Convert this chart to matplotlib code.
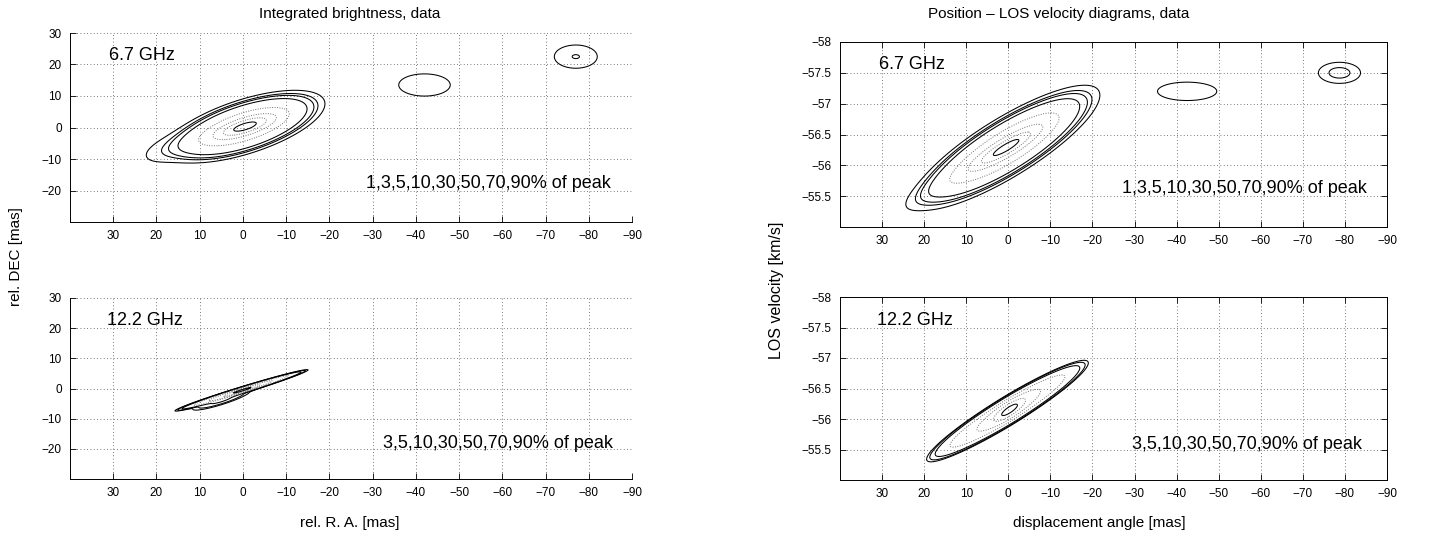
import numpy as np
import matplotlib
matplotlib.use("Agg")
import matplotlib.pyplot as plt
from matplotlib.ticker import FuncFormatter

plt.rcParams['font.family'] = ['Liberation Sans', 'DejaVu Sans']

# ---------------- data ----------------
# Each emission component: centre (x0, y0), width along x (sx),
# thickness about its ridge (sy), ridge slope (k), amplitude (A),
# profile sharpness (m: 2 = gaussian, 4 = flat-topped)
pos67_x0 = [-0.5, -0.5, 14.0, -42.0, -77.0]
pos67_y0 = [0.3, 0.3, -5.5, 13.5, 22.5]
pos67_sx = [4.5, 11.3, 5.0, 4.4, 3.3]
pos67_sy = [1.8, 5.5, 2.5, 2.6, 2.45]
pos67_k = [-0.39, -0.39, -0.39, 0.0, 0.0]
pos67_A = [0.65, 0.35, 0.04, 0.025, 0.031]
pos67_m = [2, 4, 2, 2, 2]

pos122_x0 = [0.0, 0.3, 5.0]
pos122_y0 = [-0.5, -0.6, -3.9]
pos122_sx = [3.0, 10.9, 4.0]
pos122_sy = [0.35, 0.85, 0.9]
pos122_k = [-0.44, -0.44, -0.44]
pos122_A = [0.5, 0.5, 0.12]
pos122_m = [2, 5, 2]

vel67_x0 = [0.5, 0.5, 15.0, -42.5, -78.7]
vel67_y0 = [-56.29, -56.29, -55.72, -57.2, -57.5]
vel67_sx = [5.0, 13.5, 5.0, 5.2, 2.93]
vel67_sy = [0.10, 0.334, 0.12, 0.11, 0.10]
vel67_k = [0.038, 0.038, 0.038, 0.0, 0.0]
vel67_A = [0.6, 0.4, 0.04, 0.025, 0.043]
vel67_m = [2, 4, 2, 2, 2]

vel122_x0 = [-0.3, 0.2]
vel122_y0 = [-56.15, -56.13]
vel122_sx = [2.8, 13.6]
vel122_sy = [0.08, 0.19]
vel122_k = [0.041, 0.041]
vel122_A = [0.5, 0.5]
vel122_m = [2, 5]

levels_67 = [0.01, 0.03, 0.05, 0.10, 0.30, 0.50, 0.70, 0.90]
levels_122 = [0.03, 0.05, 0.10, 0.30, 0.50, 0.70, 0.90]

x_ticks = [30, 20, 10, 0, -10, -20, -30, -40, -50, -60, -70, -80, -90]
dec_ticks = [30, 20, 10, 0, -10, -20]
vel_ticks = [-58, -57.5, -57, -56.5, -56, -55.5]

labels_67 = "1,3,5,10,30,50,70,90% of peak"
labels_122 = "3,5,10,30,50,70,90% of peak"


def field(X, Y, x0, y0, sx, sy, k, A, m):
    Z = np.zeros_like(X)
    for a, b, c, d, e, f, g in zip(x0, y0, sx, sy, k, A, m):
        q = ((X - a) / c) ** 2 + ((Y - b - e * (X - a)) / d) ** 2
        Z += f * np.exp(-0.5 * q ** (g / 2.0))
    return Z / Z.max()


def draw_contours(ax, X, Y, Z, levels):
    outer = [l for l in levels if l < 0.2]
    inner = [l for l in levels if 0.2 <= l <= 0.85]
    top = [l for l in levels if l > 0.85]
    ax.contour(X, Y, Z, levels=outer, colors='black', linewidths=0.75,
               linestyles='solid')
    ax.contour(X, Y, Z, levels=inner, colors='0.45', linewidths=0.7,
               linestyles=[(0, (1, 1.5))])
    ax.contour(X, Y, Z, levels=top, colors='black', linewidths=0.75,
               linestyles='solid')


minus_fmt = FuncFormatter(lambda v, p: f'{v:g}'.replace('-', '\u2212'))


def style(ax, box):
    ax.set_xlim(40, -90)
    ax.set_xticks(x_ticks)
    ax.xaxis.set_major_formatter(minus_fmt)
    ax.yaxis.set_major_formatter(minus_fmt)
    ax.grid(True, linestyle=(0, (1, 3)), color='0.3', linewidth=0.6)
    ax.tick_params(direction='in', length=4, width=0.6, labelsize=8.5,
                   top=box, right=box, pad=6)
    for s in ax.spines.values():
        s.set_linewidth(0.7)
    if not box:
        ax.spines['top'].set_visible(False)
        ax.spines['right'].set_visible(False)


W, H = 1429, 538
fig = plt.figure(figsize=(W / 100, H / 100), dpi=100)


def add_ax(x0, x1, ytop, ybot):
    return fig.add_axes([x0 / W, 1 - ybot / H, (x1 - x0) / W, (ybot - ytop) / H])


axLT = add_ax(70, 632, 33, 222)
axLB = add_ax(70, 632, 298, 479)
axRT = add_ax(840, 1387, 42, 227)
axRB = add_ax(840, 1387, 297, 480)

xg = np.linspace(-95, 45, 1000)
yg_pos = np.linspace(-30, 30, 1000)
yg_vel = np.linspace(-58, -55, 1000)
Xp, Yp = np.meshgrid(xg, yg_pos)
Xv, Yv = np.meshgrid(xg, yg_vel)

Z = field(Xp, Yp, pos67_x0, pos67_y0, pos67_sx, pos67_sy, pos67_k, pos67_A, pos67_m)
draw_contours(axLT, Xp, Yp, Z, levels_67)
Z = field(Xp, Yp, pos122_x0, pos122_y0, pos122_sx, pos122_sy, pos122_k, pos122_A, pos122_m)
draw_contours(axLB, Xp, Yp, Z, levels_122)
Z = field(Xv, Yv, vel67_x0, vel67_y0, vel67_sx, vel67_sy, vel67_k, vel67_A, vel67_m)
draw_contours(axRT, Xv, Yv, Z, levels_67)
Z = field(Xv, Yv, vel122_x0, vel122_y0, vel122_sx, vel122_sy, vel122_k, vel122_A, vel122_m)
draw_contours(axRB, Xv, Yv, Z, levels_122)

for ax in (axLT, axLB):
    style(ax, False)
    ax.set_ylim(-30, 30)
    ax.set_yticks(dec_ticks)
for ax in (axRT, axRB):
    style(ax, True)
    ax.set_ylim(-55, -58)
    ax.set_yticks(vel_ticks)

fs = 13
axLT.text(31, 22.7, "6.7 GHz", fontsize=fs, ha='left', va='center')
axLT.text(-28.4, -17.8, labels_67, fontsize=fs, ha='left', va='center')
axLB.text(31.5, 22.7, "12.2 GHz", fontsize=fs, ha='left', va='center')
axLB.text(-32.5, -18.3, labels_122, fontsize=fs, ha='left', va='center')
axRT.text(30.7, -57.64, "6.7 GHz", fontsize=fs, ha='left', va='center')
axRT.text(-27.1, -55.63, labels_67, fontsize=fs, ha='left', va='center')
axRB.text(31.2, -57.62, "12.2 GHz", fontsize=fs, ha='left', va='center')
axRB.text(-29.3, -55.59, labels_122, fontsize=fs, ha='left', va='center')

fig.text(350 / W, 1 - 14 / H, "Integrated brightness, data", fontsize=11,
         ha='center', va='center')
fig.text(1059 / W, 1 - 14 / H, "Position \u2013 LOS velocity diagrams, data",
         fontsize=11, ha='center', va='center')
fig.text(16 / W, 1 - 257 / H, "rel. DEC [mas]", fontsize=11, rotation=90,
         ha='center', va='center')
fig.text(776 / W, 1 - 290 / H, "LOS velocity [km/s]", fontsize=11.5, rotation=90,
         ha='center', va='center')
fig.text(350 / W, 1 - 523 / H, "rel. R. A. [mas]", fontsize=11,
         ha='center', va='center')
fig.text(1099 / W, 1 - 523 / H, "displacement angle [mas]", fontsize=11,
         ha='center', va='center')

fig.savefig("out.png", dpi=100)
